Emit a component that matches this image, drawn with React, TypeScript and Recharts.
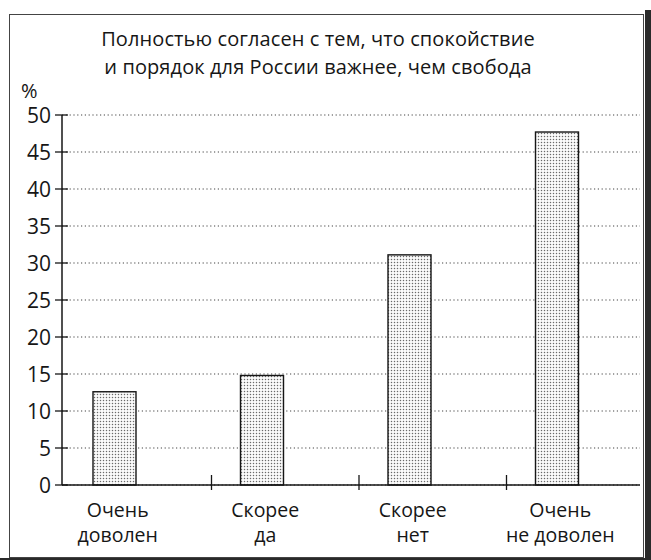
import { BarChart, Bar, XAxis, YAxis, CartesianGrid } from 'recharts';

const categories = ['Очень\nдоволен', 'Скорее\nда', 'Скорее\nнет', 'Очень\nне доволен'];
const values = [12.6, 14.8, 31.1, 47.7];
const yTicks = [0, 5, 10, 15, 20, 25, 30, 35, 40, 45, 50];
const titleLines = ['Полностью согласен с тем, что спокойствие', 'и порядок для России важнее, чем свобода'];

const chartData = categories.map((name, i) => ({ name, value: values[i] }));

const FONT = '"Open Sans", "DejaVu Sans", sans-serif';
const INK = '#161616';

// bars sit left of the band centre in the original
const BAR_SHIFT = -23;
const LABEL_SHIFT = -20;

function XTick(props: any) {
  const { x, y, payload, index } = props;
  const lines = String(payload.value).split('\n');
  const half = 147.5 / 2;
  return (
    <g>
      {index > 0 && <line x1={x - half} x2={x - half} y1={y - 10} y2={y + 5} stroke={INK} strokeWidth={1.3} />}
      {lines.map((l, i) => (
        <text key={i} x={x + LABEL_SHIFT} y={y + 32 + i * 25} textAnchor="middle" fontFamily={FONT} fontSize={19.5} fill={INK}>
          {l}
        </text>
      ))}
    </g>
  );
}

function YTick(props: any) {
  const { x, y, payload } = props;
  return (
    <g>
      <line x1={x - 7} x2={x + 6} y1={y} y2={y} stroke={INK} strokeWidth={1.3} />
      <text x={x - 11} y={y + 7.5} textAnchor="end" fontFamily={FONT} fontSize={21} fill={INK}>
        {payload.value}
      </text>
    </g>
  );
}

function DottedBar(props: any) {
  const { x, y, width, height } = props;
  if (!height) return null;
  return <rect x={x + BAR_SHIFT} y={y} width={width} height={height} fill="url(#stipple)" stroke={INK} strokeWidth={1.4} />;
}

export default function App() {
  return (
    <div style={{ position: 'absolute', left: 0, top: 0, width: 651, height: 560, background: '#fff', overflow: 'hidden' }}>
      {/* frame and scan shadow */}
      <div style={{ position: 'absolute', left: 9, top: 14, width: 633, height: 542, border: '1.5px solid #444' }} />
      <div style={{ position: 'absolute', left: 645, top: 10, width: 6, height: 550, background: '#2a2a2a' }} />
      <div style={{ position: 'absolute', left: 0, top: 558, width: 651, height: 2, background: '#2a2a2a' }} />

      <div
        style={{
          position: 'absolute',
          left: 18,
          width: 600,
          top: 25,
          textAlign: 'center',
          fontFamily: FONT,
          fontSize: 20,
          lineHeight: '28px',
          letterSpacing: '0.1px',
          color: INK,
        }}
      >
        {titleLines.map((t, i) => (
          <div key={i}>{t}</div>
        ))}
      </div>
      <div style={{ position: 'absolute', left: 21, top: 80, fontFamily: FONT, fontSize: 20, lineHeight: '22px', color: INK }}>%</div>

      <div style={{ position: 'absolute', left: 0, top: 0 }}>
        <BarChart width={651} height={560} data={chartData} margin={{ top: 115, right: 11, left: 0, bottom: 5 }}>
          <defs>
            <pattern id="stipple" width={3} height={3} patternUnits="userSpaceOnUse">
              <rect width={3} height={3} fill="#fbfbfb" />
              <circle cx={1.5} cy={1.5} r={0.75} fill="#6a6a6a" />
            </pattern>
          </defs>
          <CartesianGrid vertical={false} stroke="#444" strokeDasharray="1.2 2.6" strokeWidth={1.2} />
          <XAxis
            dataKey="name"
            height={70}
            padding={{ left: 2, right: -14 }}
            axisLine={{ stroke: INK, strokeWidth: 1.5 }}
            tickLine={false}
            tickSize={0}
            tickMargin={0}
            interval={0}
            tick={XTick}
          />
          <YAxis
            width={62}
            domain={[0, 50]}
            ticks={yTicks}
            interval={0}
            axisLine={{ stroke: INK, strokeWidth: 1.5 }}
            tickLine={false}
            tickSize={0}
            tickMargin={0}
            tick={YTick}
          />
          <Bar dataKey="value" barSize={43} shape={DottedBar} isAnimationActive={false} />
        </BarChart>
      </div>
    </div>
  );
}
